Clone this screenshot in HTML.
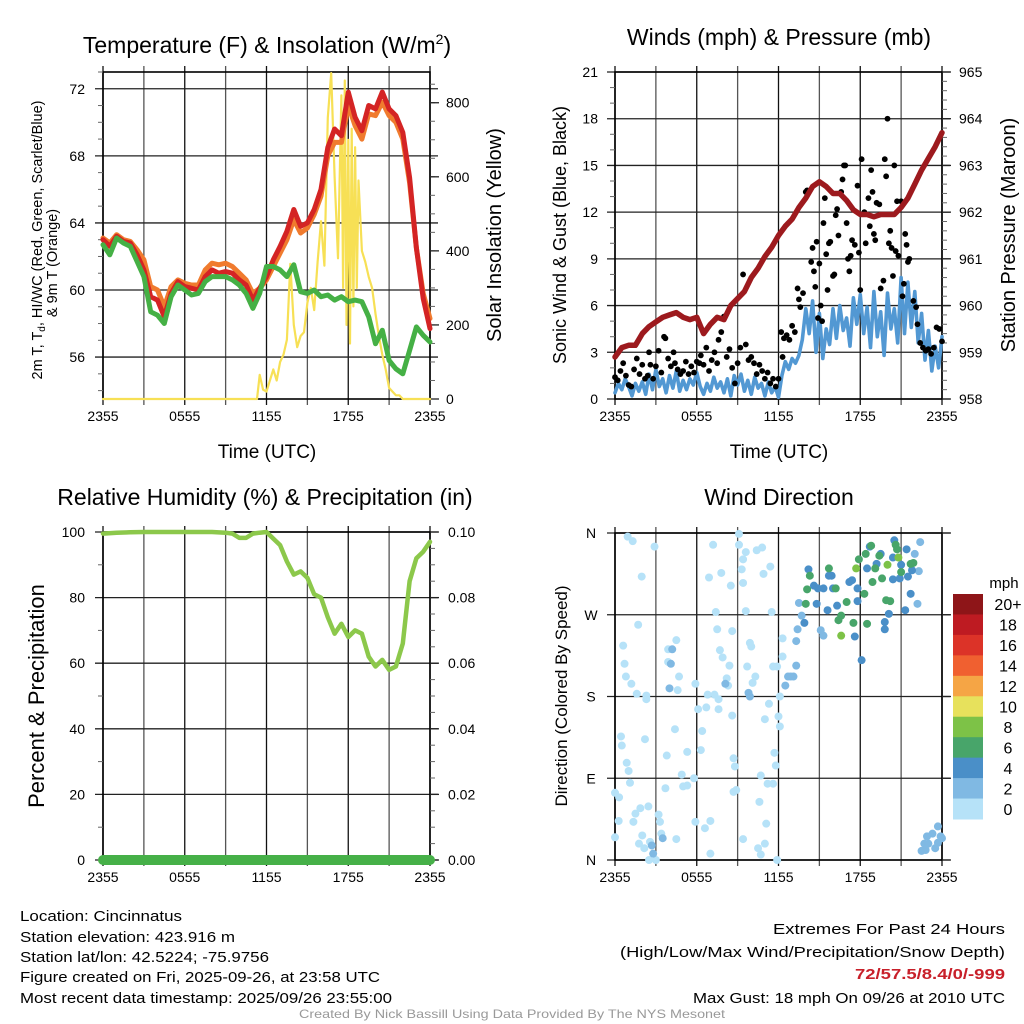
<!DOCTYPE html>
<html><head><meta charset="utf-8"><style>
html,body{margin:0;padding:0;background:#fff;}
svg{display:block;font-family:"Liberation Sans",Arial,sans-serif;}
</style></head><body>
<svg id="fig" xmlns="http://www.w3.org/2000/svg" width="1024" height="1024" viewBox="0 0 1024 1024">
<rect width="1024" height="1024" fill="#fff"/>
<text x="267" y="53" font-size="23" text-anchor="middle">Temperature (F) &amp; Insolation (W/m<tspan font-size="14" dy="-9">2</tspan><tspan dy="9">)</tspan></text>
<text x="779" y="45" font-size="23" text-anchor="middle">Winds (mph) &amp; Pressure (mb)</text>
<text x="265" y="505" font-size="23" text-anchor="middle">Relative Humidity (%) &amp; Precipitation (in)</text>
<text x="779" y="505" font-size="23" text-anchor="middle">Wind Direction</text>

<text transform="translate(42,240) rotate(-90)" font-size="14.5" text-anchor="middle">2m T, T<tspan font-size="10" dy="3">d</tspan><tspan dy="-3">, HI/WC (Red, Green, Scarlet/Blue)</tspan></text>
<text transform="translate(57,263) rotate(-90)" font-size="14.5" text-anchor="middle">&amp; 9m T (Orange)</text>
<text transform="translate(501,235) rotate(-90)" font-size="20" text-anchor="middle">Solar Insolation (Yellow)</text>
<text x="267" y="458" font-size="19" text-anchor="middle">Time (UTC)</text>
<text transform="translate(566,235) rotate(-90)" font-size="18" text-anchor="middle">Sonic Wind &amp; Gust (Blue, Black)</text>
<text transform="translate(1015,235) rotate(-90)" font-size="20" text-anchor="middle">Station Pressure (Maroon)</text>
<text x="779" y="458" font-size="19" text-anchor="middle">Time (UTC)</text>
<text transform="translate(44,696) rotate(-90)" font-size="22" text-anchor="middle">Percent &amp; Precipitation</text>
<text transform="translate(567,696) rotate(-90)" font-size="17" text-anchor="middle">Direction (Colored By Speed)</text>

<g font-size="15">
<text x="20" y="921" textLength="162" lengthAdjust="spacingAndGlyphs">Location: Cincinnatus</text>
<text x="20" y="942" textLength="215" lengthAdjust="spacingAndGlyphs">Station elevation: 423.916 m</text>
<text x="20" y="962" textLength="249" lengthAdjust="spacingAndGlyphs">Station lat/lon: 42.5224; -75.9756</text>
<text x="20" y="982" textLength="360" lengthAdjust="spacingAndGlyphs">Figure created on Fri, 2025-09-26, at 23:58 UTC</text>
<text x="20" y="1003" textLength="372" lengthAdjust="spacingAndGlyphs">Most recent data timestamp: 2025/09/26 23:55:00</text>
<text x="1005" y="934" text-anchor="end" textLength="232" lengthAdjust="spacingAndGlyphs">Extremes For Past 24 Hours</text>
<text x="1005" y="957" text-anchor="end" textLength="385" lengthAdjust="spacingAndGlyphs">(High/Low/Max Wind/Precipitation/Snow Depth)</text>
<text x="1005" y="979" text-anchor="end" fill="#c8202a" font-weight="bold" textLength="150" lengthAdjust="spacingAndGlyphs">72/57.5/8.4/0/-999</text>
<text x="1005" y="1003" text-anchor="end" textLength="312" lengthAdjust="spacingAndGlyphs">Max Gust: 18 mph On 09/26 at 2010 UTC</text>
<text x="512" y="1018" text-anchor="middle" font-size="12" fill="#999" textLength="426" lengthAdjust="spacingAndGlyphs">Created By Nick Bassill Using Data Provided By The NYS Mesonet</text>
</g>
</svg>
<script>
// ===== Temperature panel data (half-hour steps, hours since 2355) =====
const tempTimes = [0,0.5,1,1.5,2,2.5,3,3.5,4,4.5,5,5.5,6,6.5,7,7.5,8,8.5,9,9.5,10,10.5,11,11.5,12,12.5,13,13.5,14,14.5,15,15.5,16,16.5,17,17.5,18,18.5,19,19.5,20,20.5,21,21.5,22,22.5,23,23.5,24];
const temp2m = [63.0,62.6,63.2,62.9,62.8,62.1,61.2,59.6,59.4,58.4,59.8,60.5,60.2,60.1,60.0,60.8,61.2,61.0,61.1,61.0,60.6,60.3,59.4,60.1,60.8,61.8,62.6,63.5,64.8,63.8,64.0,64.8,66.0,68.5,69.6,69.2,71.8,70.3,69.5,71.0,70.8,71.8,70.8,70.4,69.4,66.7,62.5,59.5,57.7];
const temp9m = [63.1,62.8,63.3,63.0,62.9,62.4,61.8,60.2,60.0,59.0,60.2,60.6,60.4,60.3,60.3,61.2,61.6,61.5,61.6,61.4,61.0,60.6,59.8,60.1,60.6,61.4,62.2,63.0,64.2,63.4,63.7,64.5,65.6,68.0,68.8,68.8,71.0,69.8,69.0,70.5,70.4,71.2,70.4,70.0,69.0,66.4,62.5,59.8,58.3];
const dewpoint = [62.7,62.1,63.1,62.8,62.6,61.7,60.8,58.7,58.5,58.0,59.6,60.3,60.0,59.7,59.8,60.5,60.8,60.8,60.8,60.6,60.3,59.8,58.9,59.8,61.4,61.4,61.2,60.8,61.5,59.9,59.8,60.0,59.6,59.7,59.4,59.6,59.3,59.4,59.3,58.4,56.8,57.6,55.8,55.3,55.0,56.4,57.8,57.3,56.9];
const solarTimes = [0,11.3,11.5,11.75,12,12.25,12.5,12.75,13,13.25,13.5,13.75,14,14.25,14.5,14.75,15,15.25,15.5,15.75,16,16.25,16.5,16.75,17,17.25,17.5,17.625,17.75,17.875,18,18.125,18.25,18.375,18.5,18.625,18.75,19,19.25,19.5,19.75,20,20.25,20.5,20.75,21,21.25,21.5,21.75,22,24];
const solarValues = [0,0,65,25,20,50,80,50,100,120,160,365,200,140,170,180,260,300,240,370,480,360,760,880,600,380,820,300,860,200,700,150,730,250,680,300,590,400,370,330,300,230,170,120,80,30,20,10,10,0,0];
const tempTicks = [56,60,64,68,72];
const solarTicks = [0,200,400,600,800];
const timeTickLabels = ["2355","0555","1155","1755","2355"];

// ===== Wind panel data =====
const pressTimes = tempTimes;
const pressure = [958.9,959.1,959.15,959.15,959.4,959.55,959.65,959.75,959.8,959.85,959.75,959.7,959.75,959.4,959.6,959.75,959.7,960.0,960.15,960.3,960.6,960.8,961.05,961.25,961.5,961.7,961.85,962.1,962.3,962.55,962.65,962.55,962.4,962.4,962.25,962.05,961.95,961.95,961.9,961.95,961.95,961.95,962.1,962.3,962.6,962.9,963.15,963.4,963.7];
const windSpeed = [0.4,1.0,0.6,1.3,0.8,0.2,1.0,0.5,1.1,0.3,1.6,0.6,1.9,0.8,1.3,0.4,1.5,0.7,1.8,0.5,1.2,0.6,1.3,0.9,1.7,0.8,0.3,1.0,0.5,1.4,0.7,1.1,0.4,1.3,0.2,1.5,0.9,1.6,0.5,1.2,0.3,1.4,0.7,1.0,0.2,1.1,0.4,0.8,0.1,
 1.5,2.4,1.9,2.6,2.3,2.8,3.8,5.8,4.2,6.3,3.0,5.5,2.6,4.5,3.5,5.8,3.9,6.0,4.4,5.2,3.4,6.5,4.8,6.7,4.2,5.9,3.3,6.9,4.0,5.6,2.8,6.8,4.5,5.8,3.6,7.8,4.2,7.5,4.6,6.9,3.6,5.5,2.5,4.4,1.8,3.4,2.0,4.0];
const gustTimes = [0.0,0.2,0.4,0.6,0.8,1.0,1.2,1.4,1.6,1.8,2.0,2.2,2.4,2.5,2.6,2.8,3.0,3.2,3.4,3.6,3.7,3.9,4.1,4.3,4.4,4.6,4.8,5.0,5.2,5.4,5.6,5.8,6.0,6.2,6.3,6.5,6.7,6.9,7.1,7.3,7.5,7.6,7.8,8.0,8.2,8.4,8.6,8.8,9.0,9.2,9.4,9.6,9.8,10.0,10.2,10.4,10.6,10.8,11.0,11.2,11.4,11.6,11.8,12.0,12.2,12.3,12.4,12.6,12.8,13.0,13.2,13.4,13.5,13.6,13.8,14.0,14.1,14.4,14.5,14.6,14.7,14.8,14.9,15.0,15.1,15.2,15.3,15.4,15.5,15.6,15.7,15.8,16.0,16.1,16.2,16.3,16.4,16.6,16.7,16.8,16.9,17.0,17.1,17.2,17.3,17.4,17.6,17.8,17.9,18.0,18.1,18.3,18.4,18.6,18.7,18.8,18.9,19.0,19.1,19.2,19.4,19.5,19.7,19.8,19.9,20.0,20.1,20.2,20.3,20.4,20.5,20.6,20.7,20.8,21.0,21.1,21.2,21.3,21.4,21.5,21.6,21.9,22.1,22.2,22.4,22.6,22.8,23.0,23.2,23.4,23.6,23.8,24.0];
const gustValues = [1.4,1.2,1.8,2.3,1.5,0.9,0.8,1.9,2.6,1.6,2.2,1.3,1.5,3.0,2.2,1.3,2.1,3.1,1.7,4.0,3.9,2.6,2.1,3.0,2.3,1.9,1.6,1.8,2.4,1.6,2.1,1.7,2.4,2.3,2.8,2.2,3.3,1.8,2.5,3.0,2.3,3.8,4.3,5.3,2.7,3.2,2.0,1.0,2.3,3.3,8.0,3.5,2.5,2.7,2.3,1.6,2.2,1.8,1.3,1.7,1.0,1.3,0.8,1.3,4.3,2.7,3.9,4.1,3.8,4.7,4.3,7.1,6.4,5.9,6.8,13.3,13.4,8.8,9.7,8.2,7.2,10.1,5.2,8.7,6.0,5.0,11.3,12.9,9.3,7.0,10.0,10.1,7.9,8.0,11.8,12.2,10.5,13.3,14.1,15.0,15.0,11.3,9.0,8.2,9.2,10.2,9.9,13.7,9.4,7.0,15.4,12.0,10.0,12.9,11.1,14.7,13.3,10.6,10.2,12.6,12.5,7.1,7.6,15.4,14.3,18.0,10.0,10.8,9.7,7.9,15.0,9.5,12.7,9.2,12.7,6.6,7.4,10.6,9.9,8.8,9.0,6.3,5.9,4.8,3.6,3.3,3.1,3.2,2.9,3.3,4.6,4.5,3.7];
const windTicks = [0,3,6,9,12,15,18,21];
const pressTicks = [958,959,960,961,962,963,964,965];

// ===== Humidity panel data =====
const rhTimes = [0,1,2,3,4,5,6,7,8,9,9.5,10,10.5,11,11.5,12,12.5,13,13.5,14,14.5,15,15.5,16,16.5,17,17.5,18,18.5,19,19.5,20,20.5,21,21.5,22,22.5,23,23.5,24];
const rhValues = [99.5,99.8,99.9,100,100,100,100,100,100,99.8,99.5,98.2,98.2,99.5,99.8,100,98,96,91,87,88,86,81,80,74,69,72,68,70,69,62,59,61,58,59,66,85,92,94,97];
const precipTimes = [0,24];
const precipValues = [0,0];
const rhTicks = [0,20,40,60,80,100];
const precipTicks = ["0.00","0.02","0.04","0.06","0.08","0.10"];

// ===== Wind direction data (grouped by speed class) =====
const calmTimes = [0.93,1.3,2.9,1.96,1.7,0.6,0.7,0.8,1.2,1.6,2.3,2.3,0.44,0.5,0.86,1.0,1.1,0,0.3,0.27,0,1.35,1.5,1.86,2.45,2.2,1.76,2.0,2.15,2.57,2.5,3.0,3.2,3.3,3.4,3.7,3.8,4.5,4.4,3.9,4.5,3.9,4.7,4.6,4.9,5.0,5.3,5.3,5.8,5.9,5.9,6.1,6.3,6.4,6.6,7.0,7.0,6.7,6.8,7.3,7.6,7.6,6.9,7.2,7.8,7.4,7.5,7.7,7.9,8.4,8.2,8.3,8.5,8.6,8.6,8.7,8.8,8.7,8.9,9.1,9.1,9.3,9.4,9.4,9.6,9.6,9.7,9.9,10.0,10.1,10.3,9.4,10.6,10.7,10.5,10.7,11.0,11.1,11.0,11.3,10.9,10.4,10.8,11.4,11.5,11.6,11.7,11.8,11.2,11.6,11.9,12.0,12.1,12.1,12.3,12.3,11.9];
const calmDirs = [356,351,345,312,259,236,216,202,194,183,181,177,136,126,107,98,85,74,69,43,25,42,51,57,59,133,18,27,13,20,0,0,50,42,29,79,115,23,144,232,242,218,202,187,94,81,119,82,90,42,194,166,121,142,35,7,43,168,182,182,166,177,311,347,316,273,254,231,223,214,200,192,302,252,159,112,103,75,77,359,347,320,305,331,339,274,213,239,235,195,202,23,64,93,13,6,18,40,155,172,315,341,344,323,273,213,118,104,84,84,0,158,147,180,244,224,213];
const lightTimes = [4.0,4.2,4.1,8.1,9.8,9.9,12.5,12.7,12.9,13.1,13.3,13.3,13.4,13.5,13.7,3.5,2.7,2.8,22.5,22.7,22.9,23.3,23.5,23.7,23.9,23.7,24,22.8,23.0,22.4,22.0,22.3,22.2,15.3,15.1];
const lightDirs = [189,232,216,194,184,180,192,202,202,202,214,241,254,283,269,24,16,7,10,18,26,29,13,19,26,37,24,11,18,350,337,318,282,247,253];
const moderateTimes = [13.9,14.2,14.6,14.8,14.9,15.3,15.6,15.7,15.9,16.0,16.3,17.2,17.4,17.6,17.8,17.8,18.1,18.5,18.7,19.2,19.5,19.8,19.8,20.1,20.4,20.5,20.4,20.9,21.0,21.3,21.4,21.5,21.7,21.8];
const moderateDirs = [261,320,302,282,299,299,275,313,313,299,280,306,308,246,299,285,220,321,345,326,337,254,262,271,309,352,333,310,325,275,342,312,293,319];
const freshTimes = [14.0,14.1,14.3,15.7,16.2,16.4,16.6,17.0,17.5,17.9,18.3,18.4,18.5,18.8,18.9,19.1,19.4,19.6,19.9,20.2,20.6,20.7,21.0,21.7,21.9];
const freshDirs = [282,298,313,321,299,264,269,284,261,331,293,337,260,346,306,321,335,310,286,285,347,342,317,326,327];
const strongTimes = [17.7,16.6,20.0,20.8];
const strongDirs = [321,247,325,333];
const groupSpeeds = [1,3,5,7,9];
const dirTickLabels = ["N","E","S","W","N"];
const speedBinLabels = ["20+","18","16","14","12","10","8","6","4","2","0"];
const speedBinColors = ["#8e1518","#be1b22","#dc3328","#f06030","#f5a545","#e7e15c","#7dc247","#48a56a","#4a8fc8","#80b9e3","#b6e2f8"];

// ===== drawing =====
const NS = "http://www.w3.org/2000/svg";
const svg = document.getElementById("fig");
function mk(tag, attrs, parent){
  const e = document.createElementNS(NS, tag);
  for (const k in attrs) e.setAttribute(k, attrs[k]);
  (parent||svg).appendChild(e);
  return e;
}
function lin(d0,d1,r0,r1){ return v => r0 + (v-d0)/(d1-d0)*(r1-r0); }

function frame(g, X0, X1, Y0, Y1, leftTicks, rightTicks){
  const xs = lin(0,24,X0,X1);
  for (let h=0; h<=24; h+=3){
    const ln = mk("line",{x1:xs(h),x2:xs(h),y1:Y0-6,y2:Y1+6,stroke:(h%6===0)?"#111":"#555","stroke-width":1.3},g);
    
    
  }
  leftTicks.forEach(t=>{
    const ln = mk("line",{x1:X0-8,x2:X1+8,y1:t,y2:t,stroke:"#222","stroke-width":1.3},g);
    
    
  });
  rightTicks.forEach(t=>{
    const ln = mk("line",{x1:X1,x2:X1+8,y1:t,y2:t,stroke:"#222","stroke-width":1.2},g);
    
    
  });
  const bx = mk("rect",{x:X0,y:Y0,width:X1-X0,height:Y1-Y0,fill:"none",stroke:"#000","stroke-width":1.6},g);
  
  
  timeTickLabels.forEach((lb,i)=>{
    const tx = mk("text",{x:xs(i*6),y:Y1+22,"font-size":14,"text-anchor":"middle"},g);
    tx.textContent = lb;
    
    
  });
  return xs;
}
function minorTicks(g, ys, vals, x, dir){
  vals.forEach(v=>{
    const ln = mk("line",{x1:x,x2:x+dir*5,y1:ys(v),y2:ys(v),stroke:"#666","stroke-width":1},g);
    
    
  });
}
function label(g, x, y, txt, anchor, name){
  const t = mk("text",{x:x,y:y+5,"font-size":14,"text-anchor":anchor},g);
  t.textContent = txt;
  
  
}
function path(g, times, vals, xs, ys, attrs, name){
  let d = "";
  times.forEach((t,i)=>{ if(i<vals.length) d += (i?"L":"M")+xs(t).toFixed(1)+","+ys(vals[i]).toFixed(1); });
  const p = mk("path",Object.assign({d:d,fill:"none","stroke-linejoin":"round","stroke-linecap":"round"},attrs),g);
  
  
  return p;
}

// ---- Panel 1: temperature ----
(function(){
  const g = mk("g",{});
  
  
  const X0=103,X1=430,Y0=72,Y1=399;
  const yT = lin(53.5,73,Y1,Y0), yS = lin(0,883,Y1,Y0);
  const xs = frame(g,X0,X1,Y0,Y1,tempTicks.map(yT),[]);
  minorTicks(g,yT,[54,55,57,58,59,61,62,63,65,66,67,69,70,71,73],X0,-1);
  const sm=[]; for(let v=0; v<=850; v+=50) sm.push(v);
  minorTicks(g,yS,sm,X1,1);
  solarTicks.forEach(v=>{ const ln=mk("line",{x1:X1,x2:X1+9,y1:yS(v),y2:yS(v),stroke:"#222","stroke-width":1.3},g);   });
  tempTicks.forEach(v=>label(g,85,yT(v),String(v),"end","temperature-tick-label"));
  solarTicks.forEach(v=>label(g,446,yS(v),String(v),"start","solar-tick-label"));
  path(g,solarTimes,solarValues,xs,yS,{stroke:"#f7e055","stroke-width":2.2},"solar-insolation-line");
  path(g,tempTimes,temp9m,xs,yT,{stroke:"#f07b2e","stroke-width":5},"temp-9m-line");
  path(g,tempTimes,temp2m,xs,yT,{stroke:"#d42424","stroke-width":5},"temp-2m-line");
  path(g,tempTimes,dewpoint,xs,yT,{stroke:"#45b045","stroke-width":5},"dewpoint-line");
})();

// ---- Panel 2: wind ----
(function(){
  const g = mk("g",{});
  
  
  const X0=615,X1=942,Y0=72,Y1=399;
  const yW = lin(0,21,Y1,Y0), yP = lin(958,965,Y1,Y0);
  const xs = frame(g,X0,X1,Y0,Y1,windTicks.map(yW),[]);
  const wm=[]; for(let v=0; v<=21; v+=1) if(v%3) wm.push(v);
  minorTicks(g,yW,wm,X0,-1);
  const pm=[]; for(let v=958; v<=965.01; v+=0.2) pm.push(v);
  minorTicks(g,yP,pm,X1,1);
  pressTicks.forEach(v=>{ const ln=mk("line",{x1:X1,x2:X1+9,y1:yP(v),y2:yP(v),stroke:"#222","stroke-width":1.3},g);   });
  windTicks.forEach(v=>label(g,598,yW(v),String(v),"end","wind-tick-label"));
  pressTicks.forEach(v=>label(g,959,yP(v),String(v),"start","pressure-tick-label"));
  const wt = windSpeed.map((v,i)=>i*24/(windSpeed.length-1));
  path(g,wt,windSpeed,xs,yW,{stroke:"#5298d3","stroke-width":3.6},"sonic-wind-line");
  gustTimes.forEach((t,i)=>{
    if(i>=gustValues.length) return;
    const c = mk("circle",{cx:xs(t),cy:yW(gustValues[i]),r:2.9,fill:"#000"},g);
    
    
  });
  path(g,pressTimes,pressure,xs,yP,{stroke:"#9d1a1e","stroke-width":5.5},"pressure-line");
})();

// ---- Panel 3: humidity ----
(function(){
  const g = mk("g",{});
  
  
  const X0=103,X1=430,Y0=532,Y1=860;
  const yR = lin(0,100,Y1,Y0);
  const xs = frame(g,X0,X1,Y0,Y1,rhTicks.map(yR),[]);
  const rm=[]; for(let v=10; v<100; v+=20) rm.push(v);
  minorTicks(g,yR,rm,X0,-1);
  const qm=[]; for(let v=5; v<100; v+=5) if(v%20) qm.push(v);
  minorTicks(g,yR,qm,X1,1);
  rhTicks.forEach(v=>{ const ln=mk("line",{x1:X1,x2:X1+9,y1:yR(v),y2:yR(v),stroke:"#222","stroke-width":1.3},g);   });
  rhTicks.forEach(v=>label(g,85,yR(v),String(v),"end","humidity-tick-label"));
  precipTicks.forEach((lb,i)=>label(g,448,yR(rhTicks[i]),lb,"start","precip-tick-label"));
  const yPr = lin(0,0.1,Y1,Y0);
  path(g,precipTimes,precipValues,xs,yPr,{stroke:"#46b048","stroke-width":10},"precipitation-line");
  path(g,rhTimes,rhValues,xs,yR,{stroke:"#8cc84b","stroke-width":4.5},"relative-humidity-line");
})();

// ---- Panel 4: wind direction ----
(function(){
  const g = mk("g",{});
  
  
  const X0=615,X1=942,Y0=533,Y1=860;
  const yD = lin(0,360,Y1,Y0);
  const xs = frame(g,X0,X1,Y0,Y1,[0,90,180,270,360].map(yD),[]);
  [0,90,180,270,360].forEach(v=>{ const ln=mk("line",{x1:X1,x2:X1+9,y1:yD(v),y2:yD(v),stroke:"#222","stroke-width":1.3},g);   });
  dirTickLabels.forEach((lb,i)=>label(g,591,yD(i*90),lb,"middle","direction-tick-label"));
  function colorFor(s){ const bin=Math.min(10,Math.floor(s/2)); return speedBinColors[10-bin]; }
  const groups = [[calmTimes,calmDirs],[lightTimes,lightDirs],[moderateTimes,moderateDirs],[freshTimes,freshDirs],[strongTimes,strongDirs]];
  groups.forEach((gr,gi)=>{
    gr[0].forEach((t,i)=>{
      if(i>=gr[1].length) return;
      const c = mk("circle",{cx:xs(t),cy:yD(gr[1][i]),r:4,fill:colorFor(groupSpeeds[gi])},g);
      
      
    });
  });
  const cb = mk("g",{});
  
  
  const CX=953, CW=30, CY0=594, CH=225/11;
  speedBinColors.forEach((col,i)=>{
    const r = mk("rect",{x:CX,y:CY0+i*CH,width:CW,height:CH+0.5,fill:col},cb);
    
    
    const t = mk("text",{x:1008,y:CY0+i*CH+CH/2+6,"font-size":16,"text-anchor":"middle"},cb);
    t.textContent = speedBinLabels[i];
    
    
  });
  const m = mk("text",{x:1004,y:588,"font-size":15,"text-anchor":"middle"},cb);
  m.textContent = "mph";
  
  
})();
</script>
</body></html>
